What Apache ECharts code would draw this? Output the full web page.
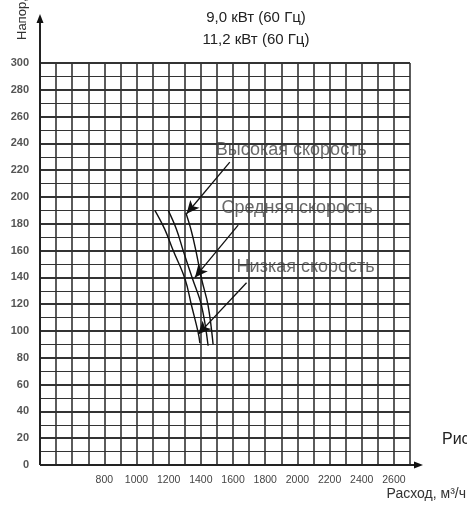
<!DOCTYPE html>
<html>
<head>
<meta charset="utf-8">
<script src="https://cdn.jsdelivr.net/npm/echarts@6/dist/echarts.min.js"></script>
<style>
  html, body { margin: 0; padding: 0; background: #fff; }
  #chart { width: 467px; height: 507px; }
</style>
</head>
<body>
<div id="chart"></div>
<script>
// curves: flow (m3/h) / head
var lowFlow = [1114, 1175, 1228, 1301, 1342, 1383, 1394];
var lowHead = [190, 176, 160, 139, 119, 99, 91];
var midFlow = [1197, 1248, 1290, 1348, 1404, 1445];
var midHead = [190, 176, 160, 139, 119, 89];
var highFlow = [1307, 1340, 1369, 1404, 1445, 1476];
var highHead = [188, 175, 160, 139, 119, 90];

// annotation texts and arrows (start -> tip, in data units)
var noteText = ['Высокая скорость', 'Средняя скорость', 'Низкая скорость'];
var noteAt = [[1493, 235], [1528, 192], [1622, 147.5]];
var arrowFrom = [[1580, 226], [1632, 179], [1684, 136]];
var arrowTo = [[1311, 187.5], [1363, 140], [1383, 97.5]];

var xLabels = [800, 1000, 1200, 1400, 1600, 1800, 2000, 2200, 2400, 2600];

var titleLines = ['9,0 кВт (60 Гц)', '11,2 кВт (60 Гц)'];

var font = 'Liberation Sans, Arial, sans-serif';
var myChart = echarts.init(document.getElementById('chart'));

function pairs(xs, ys) {
  return xs.map(function (x, i) { return [x, ys[i]]; });
}

function curve(name, xs, ys) {
  return {
    name: name,
    type: 'line',
    smooth: 0.4,
    symbol: 'none',
    clip: false,
    lineStyle: { color: '#111', width: 1.4 },
    data: pairs(xs, ys)
  };
}

var option = {
  animation: false,
  grid: { left: 40, right: 57, top: 63, bottom: 42 },
  xAxis: {
    type: 'value',
    min: 400,
    max: 2700,
    interval: 100,
    axisLine: { show: false },
    axisTick: { show: false },
    axisLabel: {
      margin: 10,
      fontSize: 10.5,
      fontFamily: font,
      color: '#444',
      formatter: function (v) {
        return xLabels.indexOf(v) >= 0 ? String(v) : '';
      }
    },
    splitLine: { lineStyle: { color: '#333', width: 1.6 } }
  },
  yAxis: {
    type: 'value',
    min: 0,
    max: 300,
    interval: 20,
    axisLine: { show: false },
    axisTick: { show: false },
    minorTick: { show: false, splitNumber: 2 },
    minorSplitLine: { show: true, lineStyle: { color: '#333', width: 1.1 } },
    axisLabel: {
      margin: 11,
      fontSize: 11,
      fontWeight: 'bold',
      fontFamily: font,
      color: '#555'
    },
    splitLine: { lineStyle: { color: '#333', width: 2 } }
  },
  series: [
    curve('Низкая', lowFlow, lowHead),
    curve('Средняя', midFlow, midHead),
    curve('Высокая', highFlow, highHead),
    {
      type: 'scatter',
      symbolSize: 0,
      silent: true,
      label: {
        show: true,
        position: 'right',
        distance: 0,
        fontSize: 18,
        fontFamily: font,
        color: '#444',
        formatter: function (p) { return noteText[p.dataIndex]; }
      },
      data: noteAt,
      markLine: {
        silent: true,
        symbol: ['none', 'arrow'],
        symbolSize: [9, 13],
        label: { show: false },
        lineStyle: { color: '#111', width: 1.3, type: 'solid' },
        data: arrowFrom.map(function (a, i) {
          return [{ coord: a }, { coord: arrowTo[i] }];
        })
      }
    }
  ]
};

myChart.setOption(option);

// axis lines with arrows, extended past the grid like in the original
var o = myChart.convertToPixel({ gridIndex: 0 }, [400, 0]);
var xEnd = myChart.convertToPixel({ gridIndex: 0 }, [2700, 0]);
var yTop = myChart.convertToPixel({ gridIndex: 0 }, [400, 300]);
var ax = o[0], ay = o[1];
var xr = xEnd[0] + 13, yt = yTop[1] - 49;

myChart.setOption({
  graphic: [
    { type: 'line', shape: { x1: ax, y1: ay, x2: xr - 6, y2: ay }, style: { stroke: '#222', lineWidth: 2 } },
    { type: 'polygon', shape: { points: [[xr, ay], [xr - 9, ay - 3.5], [xr - 9, ay + 3.5]] }, style: { fill: '#111' } },
    { type: 'line', shape: { x1: ax, y1: ay, x2: ax, y2: yt + 6 }, style: { stroke: '#222', lineWidth: 2 } },
    { type: 'polygon', shape: { points: [[ax, yt], [ax - 3.5, yt + 9], [ax + 3.5, yt + 9]] }, style: { fill: '#111' } },
    { type: 'text', x: 256, y: 18, style: { text: titleLines[0], fontSize: 15, fontFamily: font, fill: '#222', align: 'center', verticalAlign: 'middle' } },
    { type: 'text', x: 256, y: 40, style: { text: titleLines[1], fontSize: 15, fontFamily: font, fill: '#222', align: 'center', verticalAlign: 'middle' } },
    { type: 'text', x: 22, y: 40, rotation: Math.PI / 2, style: { text: 'Напор, Па', fontSize: 13, fontFamily: font, fill: '#333', align: 'left', verticalAlign: 'middle' } },
    { type: 'text', x: 466, y: 494, style: { text: 'Расход, м³/ч', fontSize: 14, fontFamily: font, fill: '#333', align: 'right', verticalAlign: 'middle' } },
    { type: 'text', x: 442, y: 440, style: { text: 'Рис. 1', fontSize: 16, fontFamily: font, fill: '#222', align: 'left', verticalAlign: 'middle' } }
  ]
});
</script>
</body>
</html>
